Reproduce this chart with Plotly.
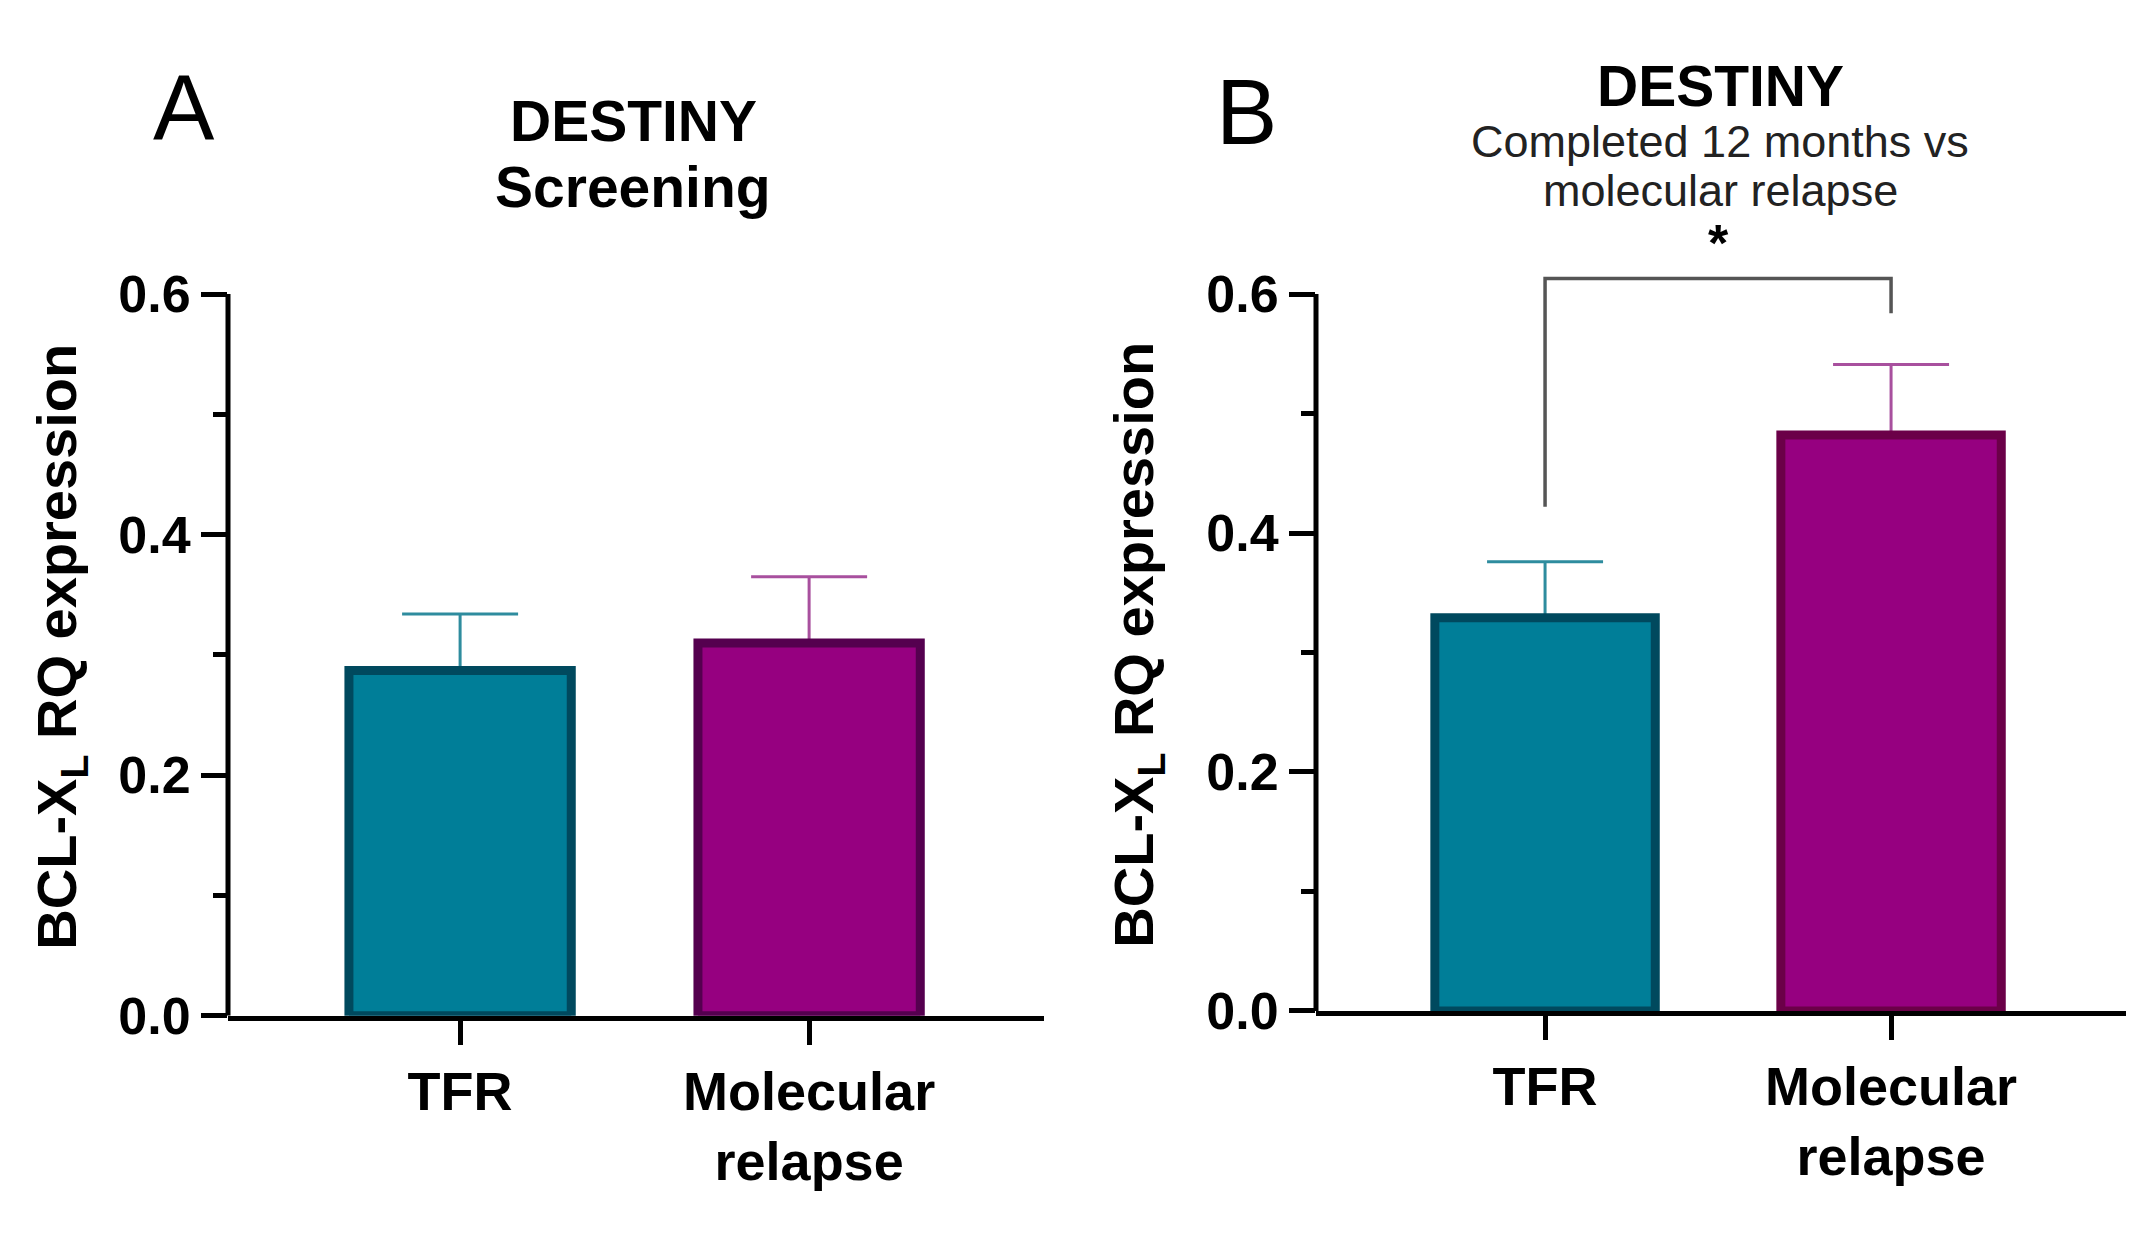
import plotly.graph_objects as go

# Werte
categories = ["TFR", "Molecular<br>relapse"]

screening_mean = [0.287, 0.310]
screening_upper = [0.334, 0.365]

completed_mean = [0.329, 0.482]
completed_upper = [0.376, 0.541]

y_tickvals = [0.0, 0.2, 0.4, 0.6]
y_ticktext = ["0.0", "0.2", "0.4", "0.6"]
y_minorvals = [0.1, 0.3, 0.5]

# Signifikanz-Klammer Panel B (TFR -> Molecular relapse)
bracket_x = [0, 0, 1, 1]
bracket_y = [0.422, 0.613, 0.613, 0.584]
star_y = 0.643

fill_colors = ["#007E98", "#960080"]
line_colors_a = ["#00495E", "#55004F"]
line_colors_b = ["#00495E", "#6B0048"]
err_colors = ["#2E8C9E", "#A8509E"]

W, H = 2144, 1235
FONT = "Arial, Liberation Sans, sans-serif"
BAR_W = 0.637


def px_x(p):
    return p / W


def px_y(p):
    return 1 - p / H


fig = go.Figure()


def add_bars(means, uppers, outline, xa, ya):
    # zuerst nur Fehlerbalken (unsichtbarer Balken), danach Balken drüber -> untere Kappe verdeckt
    for i in range(2):
        fig.add_trace(go.Bar(
            x=[i], y=[means[i]], width=BAR_W,
            marker=dict(color="rgba(0,0,0,0)", line=dict(width=0)),
            error_y=dict(type="data", symmetric=False,
                         array=[uppers[i] - means[i]], arrayminus=[0],
                         color=err_colors[i], thickness=3, width=58),
            xaxis=xa, yaxis=ya, showlegend=False, hoverinfo="skip",
        ))
    for i in range(2):
        fig.add_trace(go.Bar(
            x=[i], y=[means[i]], width=BAR_W,
            marker=dict(color=fill_colors[i], line=dict(color=outline[i], width=9)),
            xaxis=xa, yaxis=ya, showlegend=False,
        ))


add_bars(screening_mean, screening_upper, line_colors_a, "x", "y")
add_bars(completed_mean, completed_upper, line_colors_b, "x2", "y2")

fig.add_trace(go.Scatter(
    x=bracket_x, y=bracket_y, mode="lines",
    line=dict(color="#555555", width=3.5),
    xaxis="x2", yaxis="y2", showlegend=False, hoverinfo="skip",
))

xaxis_common = dict(
    tickmode="array", tickvals=[0, 1], ticktext=[f"<b>{c}</b>" for c in categories],
    showline=True, linecolor="black", linewidth=5,
    ticks="outside", ticklen=24, tickwidth=5, tickcolor="black",
    tickfont=dict(family=FONT, size=54, color="black"),
    showgrid=False, zeroline=False, fixedrange=True,
)
yaxis_common = dict(
    range=[0, 0.66], tickmode="array", tickvals=y_tickvals,
    ticktext=[f"<b>{t}</b>" for t in y_ticktext],
    showline=False,
    ticks="outside", ticklen=26, tickwidth=5, tickcolor="black",
    minor=dict(tickmode="array", tickvals=y_minorvals, ticks="outside",
               ticklen=14, tickwidth=5, tickcolor="black", showgrid=False),
    tickfont=dict(family=FONT, size=52, color="black"),
    showgrid=False, zeroline=False, fixedrange=True,
)

fig.update_layout(
    width=W, height=H,
    margin=dict(l=0, r=0, t=0, b=0),
    paper_bgcolor="white", plot_bgcolor="white",
    barmode="overlay",
    xaxis=dict(xaxis_common, domain=[px_x(220), px_x(1036)], range=[-0.665, 1.673], anchor="y"),
    yaxis=dict(yaxis_common, domain=[px_y(1032), px_y(1032 - 0.66 / 0.6 * 739)], anchor="x"),
    xaxis2=dict(xaxis_common, domain=[px_x(1308), px_x(2118)], range=[-0.662, 1.679], anchor="y2"),
    yaxis2=dict(yaxis_common, domain=[px_y(1027), px_y(1027 - 0.66 / 0.6 * 734)], anchor="x2"),
)

# y-Achsenlinien nur bis 0.6
for xr, yr in [("x domain", "y"), ("x2 domain", "y2")]:
    fig.add_shape(type="line", xref=xr, yref=yr, x0=0, x1=0, y0=0, y1=0.6,
                  line=dict(color="black", width=5))

annotations = [
    dict(text="A", x=px_x(176), y=px_y(102), font=dict(size=92)),
    dict(text="B", x=px_x(1238), y=px_y(106), font=dict(size=92)),
    dict(text="<b>DESTINY</b>", x=px_x(625), y=px_y(116), font=dict(size=57)),
    dict(text="<b>Screening</b>", x=px_x(625), y=px_y(183), font=dict(size=57)),
    dict(text="<b>DESTINY</b>", x=px_x(1712), y=px_y(80), font=dict(size=57)),
    dict(text="Completed 12 months vs", x=px_x(1712), y=px_y(137), font=dict(size=45, color="#222222")),
    dict(text="molecular relapse", x=px_x(1712), y=px_y(187), font=dict(size=45, color="#222222")),
    dict(text="<b>BCL-X<sub>L</sub> RQ expression</b>", x=px_x(53), y=px_y(654),
         textangle=-90, font=dict(size=56)),
    dict(text="<b>BCL-X<sub>L</sub> RQ expression</b>", x=px_x(1130), y=px_y(652),
         textangle=-90, font=dict(size=56)),
]
for a in annotations:
    a["xref"] = "paper"
    a["yref"] = "paper"
    a["showarrow"] = False
    a["xanchor"] = "center"
    a["yanchor"] = "middle"
    a["font"] = dict(dict(family=FONT, color="black"), **a["font"])
    fig.add_annotation(**a)

fig.add_annotation(text="<b>*</b>", x=0.5, y=star_y, xref="x2", yref="y2",
                   showarrow=False, font=dict(family=FONT, size=52, color="black"))

fig.write_html("out.html")
